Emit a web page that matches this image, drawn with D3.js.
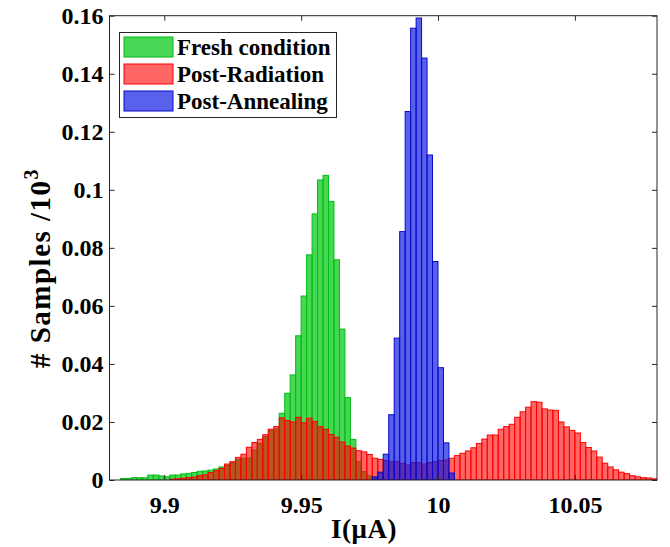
<!DOCTYPE html>
<html><head><meta charset="utf-8">
<script src="https://cdn.jsdelivr.net/npm/d3@7"></script>
<style>body{margin:0;background:#fff}svg{display:block}
text{font-family:"Liberation Serif","DejaVu Serif",serif;font-weight:bold}</style>
</head><body><svg id="c" width="670" height="547"></svg>
<script>
const binWidth = 0.002;
const seriesNames = ["Fresh condition", "Post-Radiation", "Post-Annealing"];
const freshStart = 9.884;
const freshValues = [0.0005,0.0005,0.0008,0.0008,0.0008,0.0017,0.0017,0.0014,0.0011,0.0017,
  0.0017,0.0021,0.0023,0.0026,0.0030,0.0031,0.0034,0.0038,0.0045,0.0050,
  0.0060,0.0071,0.0075,0.0076,0.0103,0.0126,0.0150,0.0170,0.0176,0.0230,
  0.0299,0.0362,0.0497,0.0634,0.0776,0.0917,0.1034,0.1050,0.0960,0.0759,
  0.0520,0.0284,0.0140,0.0063,0.0029,0.0014,0.0005];
const radStart = 9.902;
const radValues = [0.0003,0.0004,0.0006,0.0008,0.0010,0.0015,0.0018,0.0026,0.0032,0.0040,
  0.0055,0.0063,0.0078,0.0089,0.0113,0.0129,0.0140,0.0156,0.0175,0.0184,
  0.0214,0.0205,0.0200,0.0216,0.0197,0.0213,0.0201,0.0184,0.0175,0.0157,
  0.0147,0.0131,0.0117,0.0110,0.0101,0.0097,0.0088,0.0075,0.0071,0.0067,
  0.0063,0.0063,0.0057,0.0052,0.0060,0.0060,0.0055,0.0060,0.0063,0.0067,
  0.0069,0.0075,0.0084,0.0092,0.0100,0.0111,0.0126,0.0141,0.0155,0.0155,
  0.0175,0.0184,0.0192,0.0216,0.0235,0.0251,0.0270,0.0268,0.0245,0.0241,
  0.0240,0.0200,0.0183,0.0171,0.0162,0.0129,0.0112,0.0100,0.0079,0.0058,
  0.0045,0.0035,0.0027,0.0022,0.0015,0.0011,0.0008,0.0007,0.0004];
const annStart = 9.976;
const annValues = [0.0011,0.0027,0.0089,0.0225,0.0489,0.0856,0.1270,0.1557,0.1592,0.1454,
  0.1120,0.0753,0.0387,0.0128,0.0024];
const xTicks = [9.9, 9.95, 10, 10.05];
const xTickLabels = ["9.9", "9.95", "10", "10.05"];
const yTicks = [0, 0.02, 0.04, 0.06, 0.08, 0.1, 0.12, 0.14, 0.16];
const yTickLabels = ["0", "0.02", "0.04", "0.06", "0.08", "0.1", "0.12", "0.14", "0.16"];

const styles = [
  {fill: "rgb(0,200,20)", op: 0.72, stroke: "rgb(0,190,20)"},
  {fill: "rgb(255,0,0)", op: 0.6, stroke: "rgb(255,0,0)"},
  {fill: "rgb(10,20,225)", op: 0.68, stroke: "rgb(10,10,200)"}
];
const AX = "#262626";

const svg = d3.select("#c");
const L = 109.5, R = 657, T = 15.7, B = 480;
const x = d3.scaleLinear().domain([9.88, 10.08]).range([L, R]);
const y = d3.scaleLinear().domain([0, 0.16]).range([B, T]);

svg.append("defs").append("clipPath").attr("id", "clip")
  .append("rect").attr("x", L).attr("y", T).attr("width", R - L).attr("height", B - T);

const series = [
  {start: freshStart, values: freshValues},
  {start: radStart, values: radValues},
  {start: annStart, values: annValues}
];
const plot = svg.append("g").attr("clip-path", "url(#clip)");
series.forEach((s, k) => {
  const data = s.values.map((v, i) => ({x0: s.start + i * binWidth, x1: s.start + (i + 1) * binWidth, v}));
  plot.append("g").selectAll("rect").data(data).join("rect")
    .attr("x", d => x(d.x0)).attr("width", d => x(d.x1) - x(d.x0))
    .attr("y", d => y(d.v)).attr("height", d => y(0) - y(d.v))
    .attr("fill", styles[k].fill).attr("fill-opacity", styles[k].op)
    .attr("stroke", styles[k].stroke).attr("stroke-width", 1);
});

// axes
const fmtX = (d, i) => xTickLabels[i];
const fmtY = (d, i) => yTickLabels[i];
const gx = svg.append("g").attr("transform", `translate(0,${B})`)
  .call(d3.axisBottom(x).tickValues(xTicks).tickFormat(fmtX).tickSize(-5).tickPadding(0));
const gxt = svg.append("g").attr("transform", `translate(0,${T})`)
  .call(d3.axisTop(x).tickValues(xTicks).tickFormat("").tickSize(-5));
const gy = svg.append("g").attr("transform", `translate(${L},0)`)
  .call(d3.axisLeft(y).tickValues(yTicks).tickFormat(fmtY).tickSize(-5).tickPadding(0));
const gyr = svg.append("g").attr("transform", `translate(${R},0)`)
  .call(d3.axisRight(y).tickValues(yTicks).tickFormat("").tickSize(-5));
[gx, gxt, gy, gyr].forEach(g => {
  g.attr("font-family", null).attr("font-size", null);
  g.select(".domain").remove();
  g.selectAll("line").attr("stroke", AX);
});
gx.selectAll("text").attr("y", 33).attr("dy", null)
  .style("font-size", "24px").attr("fill", "#000");
gy.selectAll("text").attr("x", -6).attr("dy", "0.33em")
  .style("font-size", "24px").attr("fill", "#000");

svg.append("rect").attr("x", L).attr("y", T).attr("width", R - L).attr("height", B - T)
  .attr("fill", "none").attr("stroke", AX).attr("stroke-width", 1);

// axis labels
svg.append("text").attr("x", 364).attr("y", 538).attr("text-anchor", "middle")
  .style("font-size", "27px").style("letter-spacing", "0.5px").text("I(μA)");
const yl = svg.append("text").attr("transform", "translate(50,268) rotate(-90)")
  .attr("text-anchor", "middle").style("font-size", "29px").style("letter-spacing", "1.5px");
yl.append("tspan").text("# Samples /10");
yl.append("tspan").attr("dy", -12).style("font-size", "20px").text("3");

// legend
const lg = svg.append("g");
lg.append("rect").attr("x", 119.5).attr("y", 32.5).attr("width", 217).attr("height", 85)
  .attr("fill", "#fff").attr("stroke", AX).attr("stroke-width", 1);
seriesNames.forEach((n, i) => {
  const cy = 47 + i * 27;
  lg.append("rect").attr("x", 124).attr("y", cy - 10).attr("width", 49).attr("height", 20)
    .attr("fill", styles[i].fill).attr("fill-opacity", styles[i].op)
    .attr("stroke", styles[i].stroke).attr("stroke-width", 1);
  lg.append("text").attr("x", 177).attr("y", cy + 8)
    .style("font-size", "23px").text(n);
});
</script></body></html>
